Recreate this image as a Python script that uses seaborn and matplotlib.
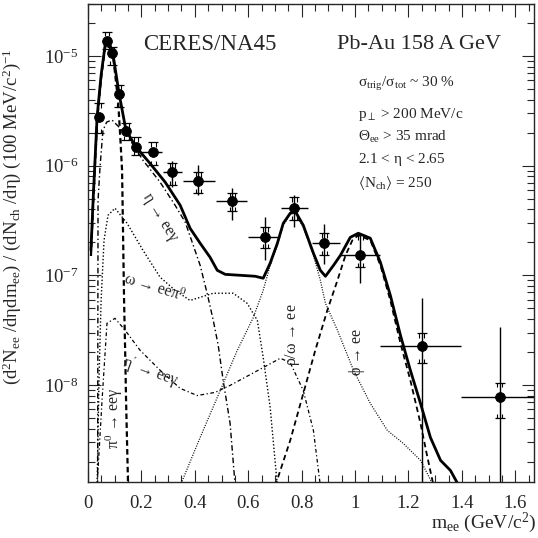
import numpy as np
import matplotlib
matplotlib.use("Agg")
import matplotlib.pyplot as plt
import seaborn as sns
from matplotlib.ticker import LogLocator, MultipleLocator, NullFormatter

# measured points
m_data = [0.041, 0.071, 0.090, 0.116, 0.143, 0.180, 0.244, 0.315, 0.413, 0.540,
          0.664, 0.772, 0.885, 1.020, 1.249, 1.541]
y_data = [2.77e-6, 1.37e-5, 1.06e-5, 4.5e-6, 2.07e-6, 1.48e-6, 1.33e-6, 8.7e-7, 7.2e-7, 4.74e-7,
          2.22e-7, 4.09e-7, 1.96e-7, 1.52e-7, 2.25e-8, 7.7e-9]
m_lo = [0.041, 0.071, 0.090, 0.116, 0.143, 0.180, 0.195, 0.281, 0.356, 0.480,
        0.600, 0.724, 0.840, 0.945, 1.095, 1.395]
m_hi = [0.041, 0.071, 0.090, 0.116, 0.143, 0.180, 0.277, 0.352, 0.476, 0.596,
        0.712, 0.825, 0.945, 1.095, 1.395, 1.680]
stat_lo = [2.77e-6, 1.37e-5, 1.06e-5, 4.5e-6, 2.07e-6, 1.48e-6, 1.33e-6, 6.37e-7, 5.38e-7, 3.18e-7,
           1.37e-7, 2.74e-7, 1.26e-7, 8.45e-8, 1e-9, 1e-9]
stat_hi = [2.77e-6, 1.37e-5, 1.06e-5, 4.5e-6, 2.07e-6, 1.48e-6, 1.33e-6, 1.1e-6, 1.01e-6, 6.24e-7,
           3.39e-7, 5.38e-7, 2.92e-7, 2.42e-7, 6.17e-8, 3.35e-8]
sys_lo = [1.98e-6, 1.15e-5, 8.28e-6, 3.42e-6, 1.71e-6, 1.25e-6, 1.01e-6, 6.64e-7, 5.61e-7, 3.84e-7,
          1.77e-7, 3.18e-7, 1.52e-7, 1.18e-7, 1.57e-8, 4.94e-9]
sys_hi = [3.72e-6, 1.66e-5, 1.21e-5, 5.43e-6, 2.44e-6, 1.82e-6, 1.64e-6, 1.05e-6, 8.73e-7, 5.61e-7,
          2.74e-7, 5.15e-7, 2.42e-7, 2.32e-7, 2.95e-8, 1.05e-8]

# cocktail: total
tot_m = [0.011, 0.019, 0.034, 0.049, 0.064, 0.071, 0.0825, 0.094, 0.116, 0.142, 0.180, 0.232,
         0.289, 0.345, 0.382, 0.420, 0.457, 0.484, 0.514, 0.570, 0.626, 0.656, 0.682, 0.709,
         0.731, 0.757, 0.776, 0.806, 0.844, 0.870, 0.889, 0.919, 0.945, 0.982, 1.012, 1.057,
         1.095, 1.132, 1.170, 1.207, 1.245, 1.282, 1.320, 1.357, 1.384]
tot_y = [1.69e-7, 4.84e-7, 2.77e-6, 6.7e-6, 1.26e-5, 1.40e-5, 1.26e-5, 1.02e-5, 4.59e-6, 2.11e-6,
         1.48e-6, 1.05e-6, 7.07e-7, 4.36e-7, 2.69e-7, 1.96e-7, 1.46e-7, 1.11e-7, 1.02e-7, 1.0e-7,
         9.8e-8, 9.4e-8, 1.29e-7, 1.96e-7, 2.98e-7, 3.68e-7, 3.84e-7, 2.86e-7, 1.59e-7, 1.11e-7,
         9.8e-8, 1.23e-7, 1.52e-7, 2.22e-7, 2.42e-7, 2.18e-7, 1.31e-7, 6.57e-8, 2.83e-8, 1.36e-8,
         6.78e-9, 3.32e-9, 2.05e-9, 1.66e-9, 1.26e-9]

pi0_m = [0.011, 0.019, 0.034, 0.049, 0.064, 0.071, 0.0825, 0.094, 0.1125, 0.120, 0.1275,
         0.131, 0.135, 0.139, 0.1425, 0.150]
pi0_y = [1.5e-7, 4.5e-7, 2.6e-6, 6.3e-6, 1.2e-5, 1.32e-5, 1.2e-5, 1.0e-5, 3.96e-6, 1.98e-6, 9.1e-7,
         2.58e-7, 5.9e-8, 2.07e-8, 7.2e-9, 1.2e-9]

eta_m = [0.036, 0.0375, 0.045, 0.056, 0.070, 0.090, 0.120, 0.1575, 0.206, 0.270, 0.326, 0.364,
         0.394, 0.420, 0.446, 0.469, 0.4875, 0.506, 0.532, 0.551]
eta_y = [1.2e-9, 4.8e-7, 9.8e-7, 2.1e-6, 2.5e-6, 2.61e-6, 2.2e-6, 1.71e-6, 1.12e-6, 7.07e-7,
         4.36e-7, 3.05e-7, 1.88e-7, 1.23e-7, 6.86e-8, 3.88e-8, 2.3e-8, 1.1e-8, 4.45e-9, 1.2e-9]

omega_m = [0.034, 0.041, 0.049, 0.060, 0.075, 0.101, 0.146, 0.206, 0.270, 0.326, 0.382, 0.420,
           0.469, 0.544, 0.596, 0.634, 0.656, 0.682, 0.709]
omega_y = [1.2e-9, 1.1e-8, 5.9e-8, 2.09e-7, 3.53e-7, 4.09e-7, 2.99e-7, 1.69e-7, 9.6e-8, 7.3e-8,
           5.9e-8, 6.3e-8, 6.86e-8, 6.86e-8, 5.55e-8, 3.88e-8, 1.78e-8, 6.24e-9, 1.2e-9]

etap_m = [0.034, 0.0525, 0.071, 0.101, 0.139, 0.195, 0.270, 0.345, 0.409, 0.476, 0.532, 0.656,
          0.720, 0.757, 0.806, 0.844, 0.870]
etap_y = [1.2e-9, 7.2e-9, 3.65e-8, 4.05e-8, 3.15e-8, 2.07e-8, 1.36e-8, 9.3e-9, 8.0e-9, 8.55e-9,
          9.9e-9, 1.44e-8, 1.75e-8, 1.6e-8, 8.9e-9, 3.84e-9, 1.2e-9]

rho_m = [0.345, 0.420, 0.495, 0.559, 0.619, 0.656, 0.682, 0.709, 0.731, 0.757, 0.776, 0.806,
         0.844, 0.870, 0.889, 0.934, 0.994, 1.057, 1.121, 1.181, 1.245, 1.294]
rho_y = [1.2e-9, 3.32e-9, 8.9e-9, 2.07e-8, 4.13e-8, 7.3e-8, 1.23e-7, 1.88e-7, 2.86e-7, 3.6e-7,
         3.68e-7, 2.74e-7, 1.52e-7, 9.0e-8, 5.55e-8, 3.15e-8, 1.36e-8, 6.78e-9, 3.84e-9, 2.92e-9,
         2.05e-9, 1.2e-9]

phi_m = [0.701, 0.757, 0.806, 0.851, 0.896, 0.934, 0.964, 0.990, 1.012, 1.057, 1.095, 1.132,
         1.170, 1.207, 1.245, 1.271, 1.294]
phi_y = [1.2e-9, 3.11e-9, 8.35e-9, 2.07e-8, 4.79e-8, 9.0e-8, 1.52e-7, 2.09e-7, 2.32e-7, 2.09e-7,
         1.23e-7, 5.9e-8, 2.39e-8, 1.1e-8, 4.45e-9, 2.18e-9, 1.2e-9]

sns.set_style("ticks")
plt.rcParams["font.family"] = ["Liberation Serif", "DejaVu Serif"]
plt.rcParams["mathtext.fontset"] = "stix"
plt.rcParams["mathtext.default"] = "regular"

fig = plt.figure(figsize=(5.38, 5.38), dpi=100)
ax = fig.add_axes([0.1636, 0.104, 0.829, 0.889])

curves = [
    (tot_m, tot_y, "-", 2.0),
    (pi0_m, pi0_y, (0, (2.5, 1.5)), 1.6),
    (eta_m, eta_y, (0, (4, 2, 1, 2)), 1.0),
    (omega_m, omega_y, (0, (1, 1.5)), 1.0),
    (etap_m, etap_y, (0, (3, 2, 1, 2)), 0.9),
    (rho_m, rho_y, (0, (0.8, 1.2)), 0.9),
    (phi_m, phi_y, (0, (3, 2)), 1.3),
]
for xm, ym, ls, lw in curves:
    sns.lineplot(x=xm, y=ym, ax=ax, color="black", linestyle=ls, linewidth=lw,
                 sort=False, estimator=None)

m_arr = np.array(m_data)
y_arr = np.array(y_data)
xerr = [m_arr - np.array(m_lo), np.array(m_hi) - m_arr]
yerr = [y_arr - np.array(stat_lo), np.array(stat_hi) - y_arr]
ax.errorbar(m_arr, y_arr, xerr=xerr, yerr=yerr, fmt="none", ecolor="black", elinewidth=1.0)
syserr = [y_arr - np.array(sys_lo), np.array(sys_hi) - y_arr]
ax.errorbar(m_arr, y_arr, yerr=syserr, fmt="none", ecolor="black", elinewidth=0,
            capsize=3.5, capthick=0.9)
# short downturned/upturned ends of the systematic brackets
for sign, ends in ((1, sys_hi), (-1, sys_lo)):
    ends = np.array(ends)
    for dx in (-0.009, 0.009):
        ax.vlines(m_arr + dx, ends, ends * 10 ** (-sign * 0.04), color="black", lw=0.8)
sns.scatterplot(x=m_data, y=y_data, ax=ax, color="black", s=50, edgecolor="black", zorder=5)

ax.set_yscale("log")
ax.set_xlim(0, 1.67)
ax.set_ylim(1.3e-9, 3e-5)
ax.set_xticks([0, 0.2, 0.4, 0.6, 0.8, 1.0, 1.2, 1.4, 1.6])
ax.set_xticklabels(["0", "0.2", "0.4", "0.6", "0.8", "1", "1.2", "1.4", "1.6"])
ax.xaxis.set_minor_locator(MultipleLocator(0.05))
ax.yaxis.set_minor_locator(LogLocator(base=10, subs=np.arange(2, 10)))
ax.yaxis.set_minor_formatter(NullFormatter())
ax.tick_params(which="both", direction="in", top=True, right=True, labelsize=13.5, width=0.8)
ax.tick_params(which="major", length=9)
ax.tick_params(which="minor", length=5)
ax.tick_params(axis="x", which="major", pad=9)
ax.tick_params(axis="y", which="major", pad=7)
for sp in ax.spines.values():
    sp.set_linewidth(1.0)

ax.set_ylabel(r"(d$^2$N$_{ee}$ /d$\eta$dm$_{ee}$) / (dN$_{ch}$ /d$\eta$) (100 MeV/c$^2$)$^{-1}$",
              fontsize=13.5)
ax.yaxis.set_label_coords(-0.145, 0.555)
fig.text(0.997, 0.028, r"m$_{ee}$ (GeV/c$^2$)", fontsize=14, ha="right", va="center")

ax.text(0.123, 0.914, "CERES/NA45", transform=ax.transAxes, fontsize=16.5, va="center")
ax.text(0.558, 0.914, "Pb-Au 158 A GeV", transform=ax.transAxes, fontsize=16, va="center")
info = [r"$\sigma_{trig}/\sigma_{tot}$ ~ 30 %", r"p$_\perp$ > 200 MeV/c",
        r"$\Theta_{ee}$ > 35 mrad", r"2.1 < $\eta$ < 2.65", r"$\langle$N$_{ch}\rangle$ = 250"]
info_y = [0.833, 0.768, 0.722, 0.674, 0.626]
for txt, yy in zip(info, info_y):
    ax.text(0.605, yy, txt, transform=ax.transAxes, fontsize=11, va="center")

ax.text(0.265, 3.3e-7, r"$\eta$ → ee$\gamma$", rotation=-58, fontsize=11.5,
        ha="center", va="center")
ax.text(0.25, 7.6e-8, r"$\omega$ → ee$\pi^0$", rotation=-17, fontsize=11.5,
        ha="center", va="center")
ax.text(0.232, 1.3e-8, r"$\eta'$ → ee$\gamma$", rotation=-20, fontsize=11.5,
        ha="center", va="center")
ax.text(0.098, 5.0e-9, r"$\pi^0$ → ee$\gamma$", rotation=90, fontsize=11.5,
        ha="center", va="center")
ax.text(0.765, 2.9e-8, r"$\rho/\omega$ → ee", rotation=90, fontsize=11.5,
        ha="center", va="center")
ax.text(1.009, 2.0e-8, r"$\phi$ → ee", rotation=90, fontsize=11.5,
        ha="center", va="center")

fig.savefig("out.png", dpi=100)
